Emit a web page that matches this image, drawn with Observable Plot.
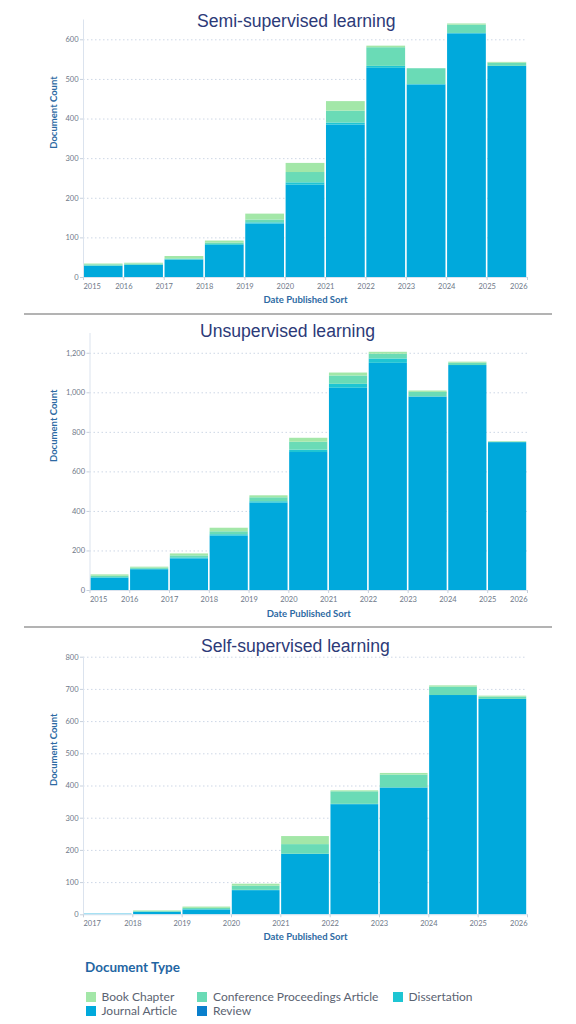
<!DOCTYPE html>
<html>
<head>
<meta charset="utf-8">
<script src="https://cdn.jsdelivr.net/npm/d3@7"></script>
<script src="https://cdn.jsdelivr.net/npm/@observablehq/plot@0.6"></script>
<style>
  html, body { margin: 0; padding: 0; background: #fff; }
  #page { position: relative; width: 576px; height: 1024px; overflow: hidden; font-family: Lato, "Noto Sans", sans-serif; }
  .panel { position: absolute; left: 0; }
  .title { position: absolute; font-family: "Liberation Sans", Arial, sans-serif; font-size: 17.6px; color: #2c3a78; line-height: 22px; white-space: nowrap; }
  .divider { position: absolute; left: 24px; width: 528px; height: 2px; background: #b3b3b3; }
  #legend { position: absolute; left: 0; top: 955px; width: 576px; }
  #legend .lt { position: absolute; left: 85px; top: 4px; font-weight: bold; font-size: 13.5px; color: #1f66a3; white-space: nowrap; }
  #legend .item { position: absolute; font-size: 12px; color: #5b6372; white-space: nowrap; line-height: 14px; }
  #legend .sw { display: inline-block; width: 10px; height: 10px; vertical-align: -1px; margin-right: 6px; }
</style>
</head>
<body>
<div id="page"></div>
<script>
// ---- Data ----
const types = ["Book Chapter", "Conference Proceedings Article", "Dissertation", "Journal Article", "Review"];
const typeColors = ["#a3e7a8", "#6adbb6", "#1ec5d3", "#00a9dc", "#0a7fcc"];
const stackOrder = ["Review", "Journal Article", "Dissertation", "Conference Proceedings Article", "Book Chapter"];

const semiYears   = [2015, 2016, 2017, 2018, 2019, 2020, 2021, 2022, 2023, 2024, 2025];
const semiReview  = [0, 0, 0, 0, 0, 0, 0, 0, 0, 0, 0];
const semiJournal = [28, 31, 44, 81, 135, 233, 385, 528, 486, 615, 533];
const semiDiss    = [1, 0, 1, 2, 3, 6, 5, 5, 1, 1, 0];
const semiConf    = [3, 3, 2, 4, 7, 26, 30, 47, 40, 21, 8];
const semiBook    = [2, 2, 6, 5, 15, 23, 24, 4, 0, 3, 2];
const semiTicks   = [0, 100, 200, 300, 400, 500, 600];

const unsupYears   = [2015, 2016, 2017, 2018, 2019, 2020, 2021, 2022, 2023, 2024, 2025];
const unsupReview  = [0, 0, 0, 0, 0, 0, 0, 0, 0, 0, 0];
const unsupJournal = [62, 105, 160, 275, 442, 698, 1023, 1149, 979, 1138, 748];
const unsupDiss    = [3, 2, 5, 7, 7, 12, 20, 22, 0, 0, 0];
const unsupConf    = [7, 6, 10, 15, 20, 40, 42, 24, 23, 12, 3];
const unsupBook    = [7, 5, 10, 18, 10, 20, 15, 10, 7, 5, 2];
const unsupTicks   = [0, 200, 400, 600, 800, 1000, 1200];

const selfYears   = [2017, 2018, 2019, 2020, 2021, 2022, 2023, 2024, 2025];
const selfReview  = [0, 0, 0, 0, 0, 0, 0, 0, 0];
const selfJournal = [2, 8, 15, 75, 188, 342, 394, 681, 669];
const selfDiss    = [0, 0, 1, 1, 0, 1, 0, 0, 0];
const selfConf    = [0, 2, 4, 13, 30, 39, 40, 26, 7];
const selfBook    = [0, 2, 4, 6, 25, 3, 5, 4, 3];
const selfTicks   = [0, 100, 200, 300, 400, 500, 600, 700, 800];

// ---- Helpers ----
function buildRows(years, byType) {
  const rows = [];
  years.forEach((yr, i) => {
    let acc = 0;
    for (const t of stackOrder) {
      const v = byType[t][i];
      rows.push({year: yr, next: yr + 1, type: t, value: v, y1: acc, y2: acc + v});
      acc += v;
    }
  });
  return rows;
}

const page = document.getElementById("page");
const tickColor = "#6e7888";
const axisTitleColor = "#2d6aa3";

function panel(cfg) {
  const rows = buildRows(cfg.years, cfg.series);
  const x0 = cfg.years[0], x1 = cfg.years[cfg.years.length - 1] + 1;
  const xt = d3.range(x0, x1 + 1);
  const mid = xt.slice(1, -1);
  const axisOpts = {tickSize: 3, tickPadding: 3, tickFormat: d => String(d), label: null, fontSize: 7.5, stroke: "#c7d0dc", fill: tickColor};
  const chart = Plot.plot({
    width: 576,
    height: cfg.height,
    marginTop: cfg.marginTop,
    marginBottom: cfg.marginBottom,
    marginLeft: cfg.marginLeft,
    marginRight: 49,
    style: {fontFamily: "Lato, 'Noto Sans', sans-serif", background: "transparent", overflow: "visible"},
    x: {domain: [x0, x1]},
    y: {domain: [0, cfg.yMax]},
    color: {domain: types, range: typeColors},
    marks: [
      Plot.gridY(cfg.ticks.slice(1), {stroke: "#cdd7e6", strokeOpacity: 1, strokeDasharray: "1.5,2.5"}),
      Plot.rect(rows, {x1: "year", x2: "next", y1: "y1", y2: "y2", fill: "type", insetLeft: 0.8, insetRight: 0.8}),
      Plot.ruleY([0], {stroke: "#dbe3ee"}),
      Plot.ruleX([x0], {stroke: "#dbe3ee"}),
      Plot.axisY({ticks: cfg.ticks, tickFormat: d3.format(","), tickSize: 3, tickPadding: 2, label: null, fontSize: 7.5, stroke: "#c7d0dc", fill: tickColor}),
      Plot.axisX({...axisOpts, ticks: [x0], textAnchor: "start"}),
      Plot.axisX({...axisOpts, ticks: mid}),
      Plot.axisX({...axisOpts, ticks: [x1], textAnchor: "end"}),
      Plot.text(["Document Count"], {frameAnchor: "left", rotate: -90, dx: cfg.yTitleDx, fontSize: 9.5, fontWeight: "bold", fill: axisTitleColor}),
      Plot.text(["Date Published Sort"], {frameAnchor: "bottom", dy: cfg.xTitleDy, fontSize: 9.5, fontWeight: "bold", fill: axisTitleColor})
    ]
  });
  const wrap = document.createElement("div");
  wrap.className = "panel";
  wrap.style.top = cfg.top + "px";
  wrap.appendChild(chart);
  page.appendChild(wrap);
  const t = document.createElement("div");
  t.className = "title";
  t.textContent = cfg.title;
  t.style.left = cfg.titleLeft + "px";
  t.style.top = (cfg.titleY - 11) + "px";
  page.appendChild(t);
}

panel({
  title: "Semi-supervised learning", titleLeft: 197, titleY: 21,
  years: semiYears,
  series: {"Review": semiReview, "Journal Article": semiJournal, "Dissertation": semiDiss, "Conference Proceedings Article": semiConf, "Book Chapter": semiBook},
  ticks: semiTicks, yMax: 650,
  top: 0, height: 312, marginTop: 19.5, marginBottom: 35, marginLeft: 83,
  yTitleDx: -30, xTitleDy: 25
});

panel({
  title: "Unsupervised learning", titleLeft: 200, titleY: 331,
  years: unsupYears,
  series: {"Review": unsupReview, "Journal Article": unsupJournal, "Dissertation": unsupDiss, "Conference Proceedings Article": unsupConf, "Book Chapter": unsupBook},
  ticks: unsupTicks, yMax: 1300,
  top: 317, height: 310, marginTop: 16, marginBottom: 37, marginLeft: 89.5,
  yTitleDx: -36, xTitleDy: 26
});

panel({
  title: "Self-supervised learning", titleLeft: 201, titleY: 646,
  years: selfYears,
  series: {"Review": selfReview, "Journal Article": selfJournal, "Dissertation": selfDiss, "Conference Proceedings Article": selfConf, "Book Chapter": selfBook},
  ticks: selfTicks, yMax: 800,
  top: 630, height: 312, marginTop: 26.7, marginBottom: 27.7, marginLeft: 83,
  yTitleDx: -30, xTitleDy: 25
});

// dividers
[314, 627].forEach(y => {
  const d = document.createElement("div");
  d.className = "divider";
  d.style.top = (y - 1) + "px";
  page.appendChild(d);
});

// legend
const legend = document.createElement("div");
legend.id = "legend";
const lt = document.createElement("div");
lt.className = "lt";
lt.textContent = "Document Type";
legend.appendChild(lt);
const legendPos = [[85.5, 35], [197, 35], [392.5, 35], [85.5, 49], [197, 49]];
types.forEach((t, i) => {
  const it = document.createElement("div");
  it.className = "item";
  it.style.left = legendPos[i][0] + "px";
  it.style.top = legendPos[i][1] + "px";
  const sw = document.createElement("span");
  sw.className = "sw";
  sw.style.background = typeColors[i];
  it.appendChild(sw);
  it.appendChild(document.createTextNode(t));
  legend.appendChild(it);
});
page.appendChild(legend);
</script>
</body>
</html>
